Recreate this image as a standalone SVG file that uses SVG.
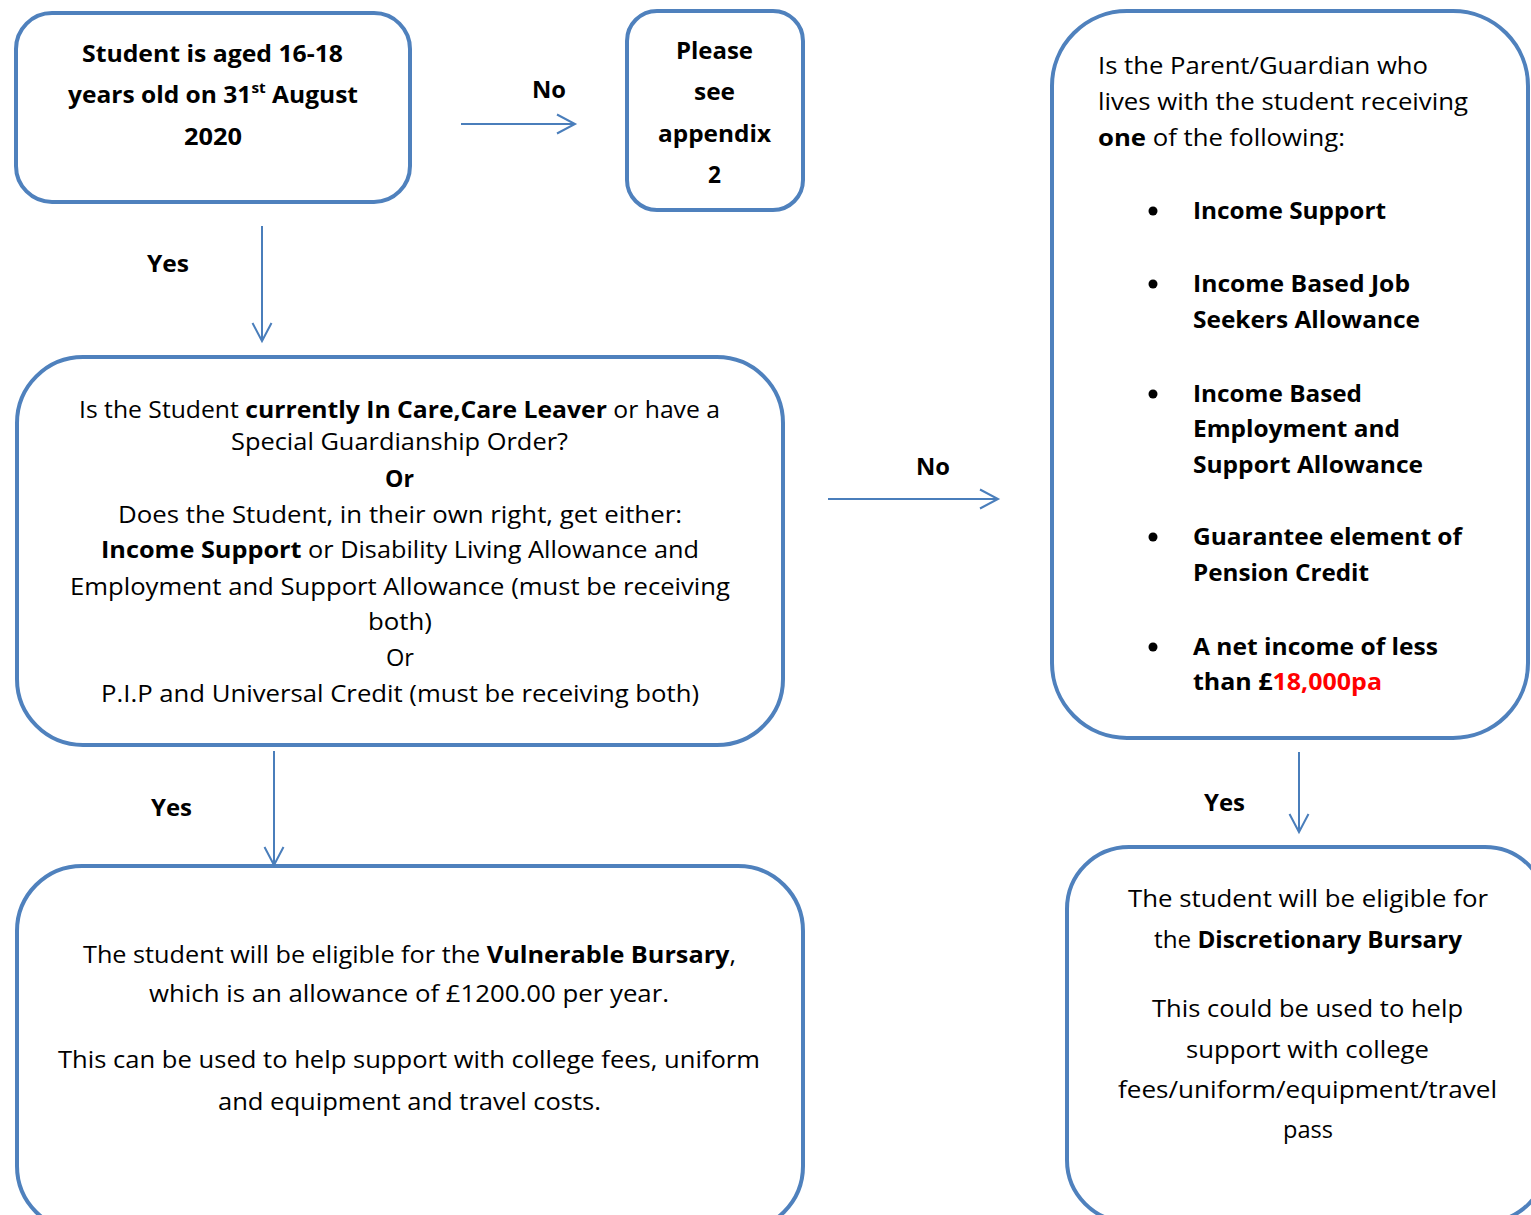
<svg xmlns="http://www.w3.org/2000/svg" width="1531" height="1215" viewBox="0 0 1531 1215">
<style>
.box{fill:#fff;stroke:#4f81bd;stroke-width:4}
.t{font-family:"Open Sans","Liberation Sans",sans-serif;font-size:24px;fill:#000}
.b{font-weight:700}
.red{fill:#ff0000}
.con{stroke:#4a7ebb;stroke-width:2;fill:none}
.dot{fill:#000}
</style>
<defs>
<marker id="arr" markerUnits="userSpaceOnUse" markerWidth="26" markerHeight="26" viewBox="-22 -13 26 26" refX="0" refY="0" orient="auto">
<path d="M-18,-9.5 L0,0 L-18,9.5" fill="none" stroke="#4a7ebb" stroke-width="2"/>
</marker>
</defs>
<rect width="1531" height="1215" fill="#fff"/>

<g id="node-age">
<rect class="box" x="16" y="13" width="394" height="189" rx="36"/>
<text class="t b" x="82" y="62" textLength="261" lengthAdjust="spacingAndGlyphs">Student is aged 16-18</text>
<text class="t b" x="68" y="103" textLength="290" lengthAdjust="spacingAndGlyphs">years old on 31<tspan font-size="15" dy="-10">st</tspan><tspan dy="10"> August</tspan></text>
<text class="t b" x="184" y="145" textLength="58" lengthAdjust="spacingAndGlyphs">2020</text>
</g>

<g id="node-appendix">
<rect class="box" x="627" y="11" width="176" height="199" rx="30"/>
<text class="t b" x="676" y="59" textLength="77" lengthAdjust="spacingAndGlyphs">Please</text>
<text class="t b" x="694" y="100" textLength="41" lengthAdjust="spacingAndGlyphs">see</text>
<text class="t b" x="658" y="142" textLength="113" lengthAdjust="spacingAndGlyphs">appendix</text>
<text class="t b" x="708" y="183" textLength="13" lengthAdjust="spacingAndGlyphs">2</text>
</g>

<g id="node-parent">
<rect class="box" x="1052" y="11" width="476" height="727" rx="75"/>
<text class="t" x="1098" y="74" textLength="330" lengthAdjust="spacingAndGlyphs">Is the Parent/Guardian who</text>
<text class="t" x="1098" y="110" textLength="370" lengthAdjust="spacingAndGlyphs">lives with the student receiving</text>
<text class="t" x="1098" y="146" textLength="247" lengthAdjust="spacingAndGlyphs"><tspan class="b">one</tspan> of the following:</text>
<circle class="dot" cx="1153" cy="211" r="4.5"/>
<text class="t b" x="1193" y="219" textLength="193" lengthAdjust="spacingAndGlyphs">Income Support</text>
<circle class="dot" cx="1153" cy="284" r="4.5"/>
<text class="t b" x="1193" y="292" textLength="217" lengthAdjust="spacingAndGlyphs">Income Based Job</text>
<text class="t b" x="1193" y="328" textLength="227" lengthAdjust="spacingAndGlyphs">Seekers Allowance</text>
<circle class="dot" cx="1153" cy="394" r="4.5"/>
<text class="t b" x="1193" y="402" textLength="169" lengthAdjust="spacingAndGlyphs">Income Based</text>
<text class="t b" x="1193" y="437" textLength="207" lengthAdjust="spacingAndGlyphs">Employment and</text>
<text class="t b" x="1193" y="473" textLength="230" lengthAdjust="spacingAndGlyphs">Support Allowance</text>
<circle class="dot" cx="1153" cy="537" r="4.5"/>
<text class="t b" x="1193" y="545" textLength="269" lengthAdjust="spacingAndGlyphs">Guarantee element of</text>
<text class="t b" x="1193" y="581" textLength="176" lengthAdjust="spacingAndGlyphs">Pension Credit</text>
<circle class="dot" cx="1153" cy="647" r="4.5"/>
<text class="t b" x="1193" y="655" textLength="245" lengthAdjust="spacingAndGlyphs">A net income of less</text>
<text class="t b" x="1193" y="690" textLength="189" lengthAdjust="spacingAndGlyphs">than £<tspan class="red">18,000pa</tspan></text>
</g>

<g id="node-student">
<rect class="box" x="17" y="357" width="766" height="388" rx="66"/>
<text class="t" x="79" y="418" textLength="641" lengthAdjust="spacingAndGlyphs">Is the Student <tspan class="b">currently In Care,Care Leaver</tspan> or have a</text>
<text class="t" x="231" y="450" textLength="337" lengthAdjust="spacingAndGlyphs">Special Guardianship Order?</text>
<text class="t b" x="385" y="487" textLength="29" lengthAdjust="spacingAndGlyphs">Or</text>
<text class="t" x="118" y="523" textLength="564" lengthAdjust="spacingAndGlyphs">Does the Student, in their own right, get either:</text>
<text class="t" x="101" y="558" textLength="598" lengthAdjust="spacingAndGlyphs"><tspan class="b">Income Support</tspan> or Disability Living Allowance and</text>
<text class="t" x="70" y="595" textLength="660" lengthAdjust="spacingAndGlyphs">Employment and Support Allowance (must be receiving</text>
<text class="t" x="368" y="630" textLength="64" lengthAdjust="spacingAndGlyphs">both)</text>
<text class="t" x="386" y="666" textLength="28" lengthAdjust="spacingAndGlyphs">Or</text>
<text class="t" x="101" y="702" textLength="598" lengthAdjust="spacingAndGlyphs">P.I.P and Universal Credit (must be receiving both)</text>
</g>

<g id="node-vulnerable">
<rect class="box" x="17" y="866" width="786" height="365" rx="65"/>
<text class="t" x="83" y="963" textLength="653" lengthAdjust="spacingAndGlyphs">The student will be eligible for the <tspan class="b">Vulnerable Bursary</tspan>,</text>
<text class="t" x="149" y="1002" textLength="520" lengthAdjust="spacingAndGlyphs">which is an allowance of £1200.00 per year.</text>
<text class="t" x="58" y="1068" textLength="702" lengthAdjust="spacingAndGlyphs">This can be used to help support with college fees, uniform</text>
<text class="t" x="218" y="1110" textLength="383" lengthAdjust="spacingAndGlyphs">and equipment and travel costs.</text>
</g>

<g id="node-discretionary">
<rect class="box" x="1067" y="847" width="480" height="375" rx="62"/>
<text class="t" x="1128" y="907" textLength="360" lengthAdjust="spacingAndGlyphs">The student will be eligible for</text>
<text class="t" x="1154" y="948" textLength="308" lengthAdjust="spacingAndGlyphs">the <tspan class="b">Discretionary Bursary</tspan></text>
<text class="t" x="1152" y="1017" textLength="311" lengthAdjust="spacingAndGlyphs">This could be used to help</text>
<text class="t" x="1186" y="1058" textLength="243" lengthAdjust="spacingAndGlyphs">support with college</text>
<text class="t" x="1118" y="1098" textLength="379" lengthAdjust="spacingAndGlyphs">fees/uniform/equipment/travel</text>
<text class="t" x="1283" y="1138" textLength="50" lengthAdjust="spacingAndGlyphs">pass</text>
</g>

<g id="connectors">
<line class="con" x1="461" y1="124" x2="575" y2="124" marker-end="url(#arr)"/>
<text class="t b" x="532" y="98" textLength="34" lengthAdjust="spacingAndGlyphs">No</text>
<line class="con" x1="262" y1="226" x2="262" y2="341" marker-end="url(#arr)"/>
<text class="t b" x="147" y="272" textLength="42" lengthAdjust="spacingAndGlyphs">Yes</text>
<line class="con" x1="828" y1="499" x2="998" y2="499" marker-end="url(#arr)"/>
<text class="t b" x="916" y="475" textLength="34" lengthAdjust="spacingAndGlyphs">No</text>
<line class="con" x1="274" y1="751" x2="274" y2="865" marker-end="url(#arr)"/>
<text class="t b" x="151" y="816" textLength="41" lengthAdjust="spacingAndGlyphs">Yes</text>
<line class="con" x1="1299" y1="752" x2="1299" y2="832" marker-end="url(#arr)"/>
<text class="t b" x="1204" y="811" textLength="41" lengthAdjust="spacingAndGlyphs">Yes</text>
</g>
</svg>
